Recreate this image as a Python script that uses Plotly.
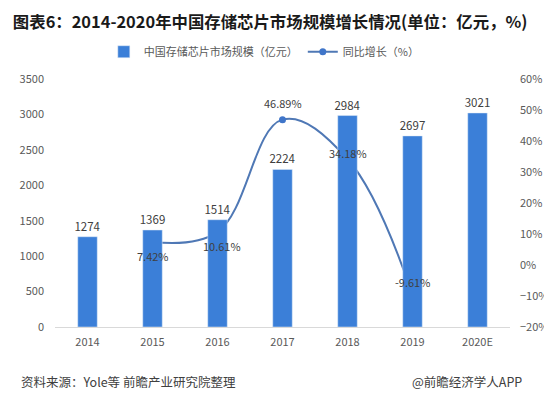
import plotly.graph_objects as go

years = ['2014', '2015', '2016', '2017', '2018', '2019', '2020E']
market_size = [1274, 1369, 1514, 2224, 2984, 2697, 3021]
growth_years = ['2015', '2016', '2017', '2018', '2019']
growth_pct = [7.42, 10.61, 46.89, 34.18, -9.61]

# label offsets (px) for the growth labels, like the Excel original
label_dy = [-14, -14, 17, 6, 13]
label_dx = [0, 4, 0, 0, 0]

FONT = 'Noto Sans CJK SC'
BAR_COLOR = '#3b7fd8'
LINE_COLOR = '#4f78b5'
TXT = '#404040'
AXT = '#595959'

fig = go.Figure()

# line goes on the base axis so the bars (overlaying axis) are drawn over it
fig.add_trace(go.Scatter(
    x=growth_years, y=growth_pct, yaxis='y', name='同比增长（%）',
    mode='lines+markers', line=dict(color=LINE_COLOR, width=2, shape='spline', smoothing=1.1),
    marker=dict(color='#3f75c9', size=7),
    cliponaxis=False,
))

fig.add_trace(go.Bar(
    x=years, y=market_size, yaxis='y2', name='中国存储芯片市场规模（亿元）',
    marker=dict(color=BAR_COLOR), width=0.3,
    text=[str(v) for v in market_size], textposition='outside', constraintext='none',
    textfont=dict(family=FONT, size=11.5, color=TXT),
    cliponaxis=False,
))

# labels as annotations so they sit above the bars; x by category index
for yr, v, dy, dx in zip(growth_years, growth_pct, label_dy, label_dx):
    fig.add_annotation(x=years.index(yr), y=v, xref='x', yref='y', text=f'{v:.2f}%',
                       showarrow=False, yshift=dy, xshift=dx,
                       font=dict(family=FONT, size=11, color=TXT))

# page body has an 8px margin, so the layout is shifted up/left by 8px
fig.update_layout(
    width=552, height=401,
    margin=dict(l=37, r=50, t=71, b=82),
    paper_bgcolor='white', plot_bgcolor='white',
    font=dict(family=FONT, size=11, color=AXT),
    showlegend=True,
    legend=dict(orientation='h', x=0.46, xanchor='center', y=1.11, yanchor='middle',
                font=dict(family=FONT, size=11, color=AXT), traceorder='reversed'),
    title=dict(text='<b>图表6：2014-2020年中国存储芯片市场规模增长情况(单位：亿元，%)</b>',
               x=0.475, xanchor='center', y=0.965, yanchor='middle',
               font=dict(family=FONT, size=16.4, color='#1a1a1a')),
    xaxis=dict(type='category', categoryorder='array', categoryarray=years,
               range=[-0.5, len(years) - 0.5],
               showgrid=False, showline=True, linecolor='#d9d9d9', linewidth=1,
               ticks='', ticklabelstandoff=5, tickfont=dict(size=11, color=AXT)),
    yaxis=dict(side='right', range=[-20, 60], dtick=10, ticksuffix='%',
               showgrid=False, zeroline=False, showline=False, ticklabelstandoff=9,
               tickfont=dict(size=11, color=AXT)),
    yaxis2=dict(side='left', overlaying='y', range=[0, 3500], dtick=500,
                showgrid=False, zeroline=False, showline=False, ticklabelstandoff=10,
                tickfont=dict(size=11, color=AXT)),
    bargap=0.7,
)

fig.add_annotation(text='资料来源：Yole等 前瞻产业研究院整理', xref='paper', yref='paper',
                   x=-0.08, y=-0.218, xanchor='left', yanchor='middle', showarrow=False,
                   font=dict(family=FONT, size=12.5, color=TXT))
fig.add_annotation(text='@前瞻经济学人APP', xref='paper', yref='paper',
                   x=0.78, y=-0.218, xanchor='left', yanchor='middle', showarrow=False,
                   font=dict(family=FONT, size=12.5, color=TXT))

fig.write_html('out.html')
